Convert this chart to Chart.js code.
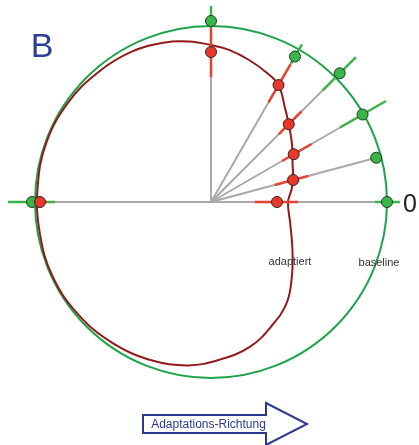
<!DOCTYPE html>
<html><head><meta charset="utf-8">
<script src="https://cdn.jsdelivr.net/npm/chart.js@4"></script>
<style>
html,body{margin:0;padding:0;background:#fff;}
#wrap{position:relative;width:419px;height:445px;overflow:hidden;font-family:"Liberation Sans",Arial,sans-serif;}
#wrap canvas,#wrap svg{position:absolute;left:0;top:0;}
.lbl{position:absolute;transform:translate(-50%,-50%);line-height:1;white-space:nowrap;}
</style></head><body>
<div id="wrap">
<canvas id="c" width="419" height="445"></canvas>
<svg width="419" height="445"><path d="M143,415 H266 V403 L307,424 L266,445 V433 H143 Z" fill="none" stroke="#2b3990" stroke-width="2" stroke-linejoin="miter"/></svg>
<div class="lbl" style="left:42px;top:44.5px;font-size:34px;color:#2b3f98">B</div>
<div class="lbl" style="left:410px;top:202.5px;font-size:25px;color:#222">0</div>
<div class="lbl" style="left:290px;top:261px;font-size:11px;color:#333">adaptiert</div>
<div class="lbl" style="left:379px;top:261.5px;font-size:11px;color:#333">baseline</div>
<div class="lbl" style="left:208.5px;top:423.5px;font-size:12px;color:#2b3990">Adaptations-Richtung</div>
</div>
<script>
// measured directions (degrees, counter-clockwise from "0")
const angles = [0, 15, 30, 45, 60, 90, 180];
// baseline (green) responses and error ranges
const baselineR  = [176, 171, 175, 182, 168, 181, 179];
const baselineLo = [164, 171, 149, 158, 160, 174, 156];
const baselineHi = [189, 171, 202, 205, 182, 196, 203];
// adapted (red) responses and error ranges
const adaptedR  = [66, 85, 95.5, 110, 135, 150, 171];
const adaptedLo = [44, 66, 82, 96, 115, 125, 164];
const adaptedHi = [87, 101, 116, 128, 159, 174, 178];
// baseline tuning curve (circle) radius
const baselineCircleR = 176;
// adapted tuning curve, traced (angle in degrees, radius)
const curveAngles = [0, 8, 15, 25, 35, 45, 52, 60, 67, 75, 83, 90, 98, 106, 118, 131, 145, 160, 175, 190, 205, 220, 235, 250, 262, 273, 285, 296, 307, 318, 330, 345];
const curveR      = [77, 81, 85, 90, 99, 110, 120, 135, 141, 147, 153, 157, 162, 166, 170, 172, 174, 175, 174, 174, 175, 174, 172, 169, 165, 158, 150, 138, 126, 109, 94, 82];

const GREEN = '#1ea34a', GREEN_BAR = '#3cb34a', GREEN_DOT = '#3ab54a';
const RED_DOT = '#e8382a', RED_BAR = '#e8412e', RED_CURVE = '#93191c';
const GRAY = '#a9a9a9';

const P = (deg, r) => ({x: r * Math.cos(deg * Math.PI / 180), y: r * Math.sin(deg * Math.PI / 180)});

const datasets = [];
// dots
datasets.push({data: angles.map((a, i) => P(a, adaptedR[i])), pointRadius: 5.5, pointBackgroundColor: RED_DOT, pointBorderColor: '#3a2020', pointBorderWidth: 1, showLine: false, order: 0});
datasets.push({data: angles.map((a, i) => P(a, baselineR[i])), pointRadius: 5.5, pointBackgroundColor: GREEN_DOT, pointBorderColor: '#203a20', pointBorderWidth: 1, showLine: false, order: 0});
// error bars
angles.forEach((a, i) => {
  datasets.push({data: [P(a, adaptedLo[i]), P(a, adaptedHi[i])], showLine: true, borderColor: RED_BAR, borderWidth: 2.5, pointRadius: 0, order: 1});
  datasets.push({data: [P(a, baselineLo[i]), P(a, baselineHi[i])], showLine: true, borderColor: GREEN_BAR, borderWidth: 2.5, pointRadius: 0, order: 1});
});
// adapted curve (closed loop)
const n = curveAngles.length;
const idx = [n - 1, ...Array.from({length: n}, (_, i) => i), 0, 1];
datasets.push({
  data: idx.map(i => P(curveAngles[i], curveR[i])),
  showLine: true, borderColor: RED_CURVE, borderWidth: 2, pointRadius: 0, tension: 0.4, order: 2,
  segment: {borderColor: c => (c.p0DataIndex === 0 || c.p0DataIndex === n + 1) ? 'rgba(0,0,0,0)' : RED_CURVE}
});
// radial gray lines
angles.forEach((a, i) => {
  datasets.push({data: [P(a, 0), P(a, baselineR[i])], showLine: true, borderColor: GRAY, borderWidth: 2, pointRadius: 0, order: 3});
});

const baselineCircle = {
  id: 'baselineCircle',
  beforeDatasetsDraw(chart) {
    const {ctx, scales: {x, y}} = chart;
    const cx = x.getPixelForValue(0), cy = y.getPixelForValue(0);
    const r = x.getPixelForValue(baselineCircleR) - cx;
    ctx.save();
    ctx.beginPath();
    ctx.arc(cx, cy, r, 0, Math.PI * 2);
    ctx.strokeStyle = GREEN;
    ctx.lineWidth = 2;
    ctx.stroke();
    ctx.restore();
  }
};

new Chart(document.getElementById('c'), {
  type: 'scatter',
  data: {datasets},
  options: {
    responsive: false,
    animation: false,
    layout: {padding: 0, autoPadding: false},
    plugins: {legend: {display: false}, tooltip: {enabled: false}},
    scales: {
      x: {type: 'linear', min: -211, max: 208, display: false},
      y: {type: 'linear', min: -243, max: 202, display: false}
    }
  },
  plugins: [baselineCircle]
});
</script>
</body></html>
